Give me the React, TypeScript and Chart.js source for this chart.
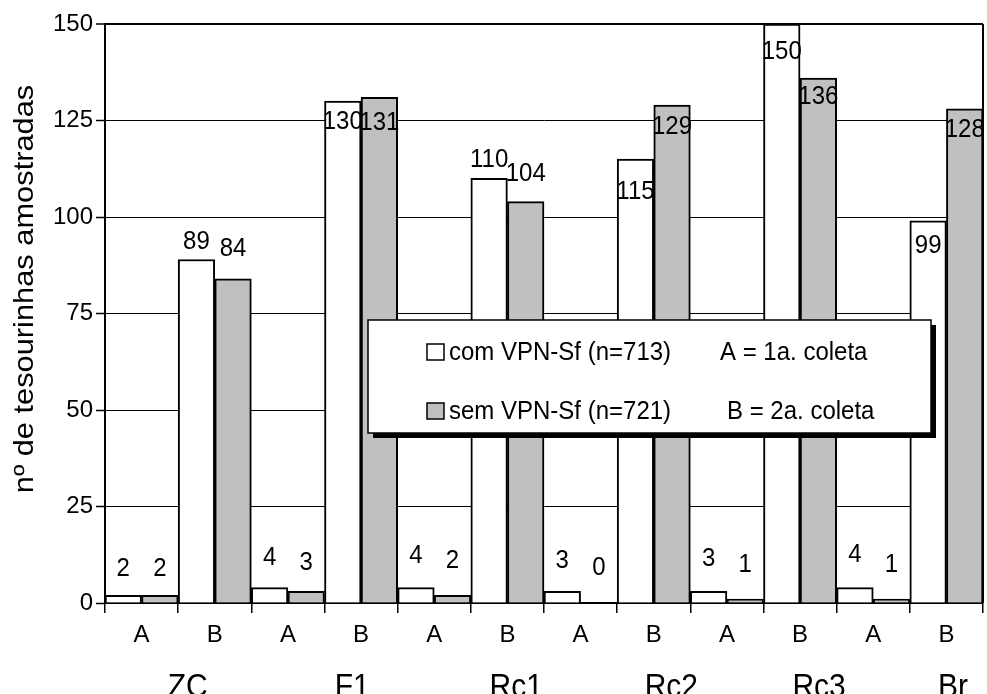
import React, { useEffect, useRef } from 'react';
import { Chart, registerables } from 'chart.js';

Chart.register(...registerables);

// Collection labels under each bar pair and the sampling sites they belong to
const subLabels = ['A', 'B', 'A', 'B', 'A', 'B', 'A', 'B', 'A', 'B', 'A', 'B'];
const sites = ['ZC', 'F1', 'Rc1', 'Rc2', 'Rc3', 'Br'];

// Number of earwigs sampled per treatment
const comVPN = [2, 89, 4, 130, 4, 110, 3, 115, 3, 150, 4, 99];
const semVPN = [2, 84, 3, 131, 2, 104, 0, 129, 1, 136, 1, 128];

const yTicks = [0, 25, 50, 75, 100, 125, 150];
const seriesNames = ['com VPN-Sf (n=713)', 'sem VPN-Sf (n=721)'];
const collectNotes = ['A = 1a. coleta', 'B = 2a. coleta'];
const yTitle = 'nº de tesourinhas amostradas';

// Layout: where the site names sit (in category widths from the left edge)
const siteLabelAt = [1.13, 3.38, 5.62, 7.74, 9.76, 11.59];
// Vertical shift (px) of each value label from its bar top
const comLabelDy = [-27, -18, -30, 21, -32, -19, -31, 33, -33, 28, -33, 25];
const semLabelDy = [-27, -30, -29, 25, -35, -28, -35, 22, -34, 19, -34, 21];

const FONT = '"Liberation Sans", Arial, Helvetica, sans-serif';
const GRAY = '#c0c0c0';
// text in this figure is slightly taller than it is wide
const STRETCH = 1.09;

function tallText(ctx: CanvasRenderingContext2D, text: string, x: number, y: number) {
  ctx.save();
  ctx.translate(x, y);
  ctx.scale(1, STRETCH);
  ctx.fillText(text, 0, 0);
  ctx.restore();
}

const extras = {
  id: 'extras',
  afterDatasetsDraw(chart: any) {
    const ctx: CanvasRenderingContext2D = chart.ctx;
    const { right, top, bottom } = chart.chartArea;
    ctx.save();

    // right edge of the plot frame
    ctx.strokeStyle = '#000';
    ctx.lineWidth = 2;
    ctx.beginPath();
    ctx.moveTo(right, top);
    ctx.lineTo(right, bottom);
    ctx.stroke();

    // value labels
    ctx.font = `24px ${FONT}`;
    ctx.fillStyle = '#000';
    ctx.textAlign = 'center';
    ctx.textBaseline = 'middle';
    [comLabelDy, semLabelDy].forEach((dys, di) => {
      const meta = chart.getDatasetMeta(di);
      const values = chart.data.datasets[di].data;
      meta.data.forEach((bar: any, i: number) => {
        tallText(ctx, String(values[i]), bar.x, bar.y + dys[i]);
      });
    });

    // legend box with drop shadow
    const bx = 368, by = 320, bw = 563, bh = 113;
    ctx.fillStyle = '#000';
    ctx.fillRect(bx + 5, by + 5, bw, bh);
    ctx.fillStyle = '#fff';
    ctx.fillRect(bx, by, bw, bh);
    ctx.strokeStyle = '#000';
    ctx.lineWidth = 1.5;
    ctx.strokeRect(bx, by, bw, bh);

    const rows = [352, 411];
    const fills = ['#fff', GRAY];
    ctx.textAlign = 'left';
    ctx.textBaseline = 'middle';
    rows.forEach((ry, i) => {
      ctx.fillStyle = fills[i];
      ctx.fillRect(427, ry - 8, 17, 16);
      ctx.strokeStyle = '#000';
      ctx.lineWidth = 1.5;
      ctx.strokeRect(427, ry - 8, 17, 16);
      ctx.fillStyle = '#000';
      tallText(ctx, seriesNames[i], 449, ry + 1);
      tallText(ctx, collectNotes[i], i === 0 ? 720 : 727, ry + 1);
    });
    ctx.restore();
  },
  afterDraw(chart: any) {
    const ctx: CanvasRenderingContext2D = chart.ctx;
    const xScale = chart.scales.x;
    ctx.save();
    ctx.fillStyle = '#000';

    // site names under the collection letters (partly cut by the bottom edge)
    ctx.font = `30px ${FONT}`;
    ctx.textAlign = 'center';
    ctx.textBaseline = 'alphabetic';
    sites.forEach((s, i) => {
      const x = xScale.getPixelForDecimal(siteLabelAt[i] / subLabels.length);
      ctx.save();
      ctx.translate(x, 697);
      ctx.scale(1, 1.1);
      ctx.fillText(s, 0, 0);
      ctx.restore();
    });

    // y axis title
    ctx.font = `28px ${FONT}`;
    ctx.translate(25, 289);
    ctx.rotate(-Math.PI / 2);
    ctx.scale(1.1, 1);
    ctx.textAlign = 'center';
    ctx.textBaseline = 'middle';
    ctx.fillText(yTitle, 0, 0);
    ctx.restore();
  },
};

export default function App() {
  const canvasRef = useRef<HTMLCanvasElement>(null);

  useEffect(() => {
    if (!canvasRef.current) return;
    Chart.defaults.font.family = FONT;
    const chart = new Chart(canvasRef.current, {
      type: 'bar',
      data: {
        labels: subLabels,
        datasets: [
          {
            label: seriesNames[0],
            data: comVPN,
            backgroundColor: '#ffffff',
            borderColor: '#000',
            borderWidth: 2,
            categoryPercentage: 1,
            barPercentage: 1,
          },
          {
            label: seriesNames[1],
            data: semVPN,
            backgroundColor: GRAY,
            borderColor: '#000',
            borderWidth: 2,
            categoryPercentage: 1,
            barPercentage: 1,
          },
        ],
      },
      options: {
        animation: false,
        responsive: true,
        maintainAspectRatio: false,
        layout: { padding: { top: 24, right: 4, left: 0, bottom: 0 } },
        plugins: {
          legend: { display: false },
          tooltip: { enabled: false },
          title: { display: false },
        },
        scales: {
          x: {
            offset: true,
            grid: {
              display: true,
              drawOnChartArea: false,
              drawTicks: true,
              tickLength: 10,
              color: '#000',
              lineWidth: 1.5,
            },
            border: { display: true, color: '#000', width: 2 },
            ticks: {
              color: '#000',
              font: { size: 24, family: FONT },
              padding: 8,
              maxRotation: 0,
              autoSkip: false,
            },
            afterFit: (s: any) => {
              s.height = 91;
            },
          },
          y: {
            min: 0,
            max: 150,
            afterBuildTicks: (s: any) => {
              s.ticks = yTicks.map((v) => ({ value: v }));
            },
            grid: {
              color: '#000',
              lineWidth: (c: any) => (c.tick && c.tick.value === 150 ? 2 : 1),
              tickLength: 9,
              tickWidth: 1.5,
              tickColor: '#000',
            },
            border: { display: true, color: '#000', width: 2 },
            ticks: {
              color: '#000',
              font: { size: 24, family: FONT },
              padding: 3,
            },
            afterFit: (s: any) => {
              s.width = 105;
            },
          },
        },
      },
      plugins: [extras],
    });
    return () => chart.destroy();
  }, []);

  return (
    <div style={{ position: 'fixed', left: 0, top: 0, width: 987, height: 694, background: '#fff' }}>
      <canvas ref={canvasRef} />
    </div>
  );
}
